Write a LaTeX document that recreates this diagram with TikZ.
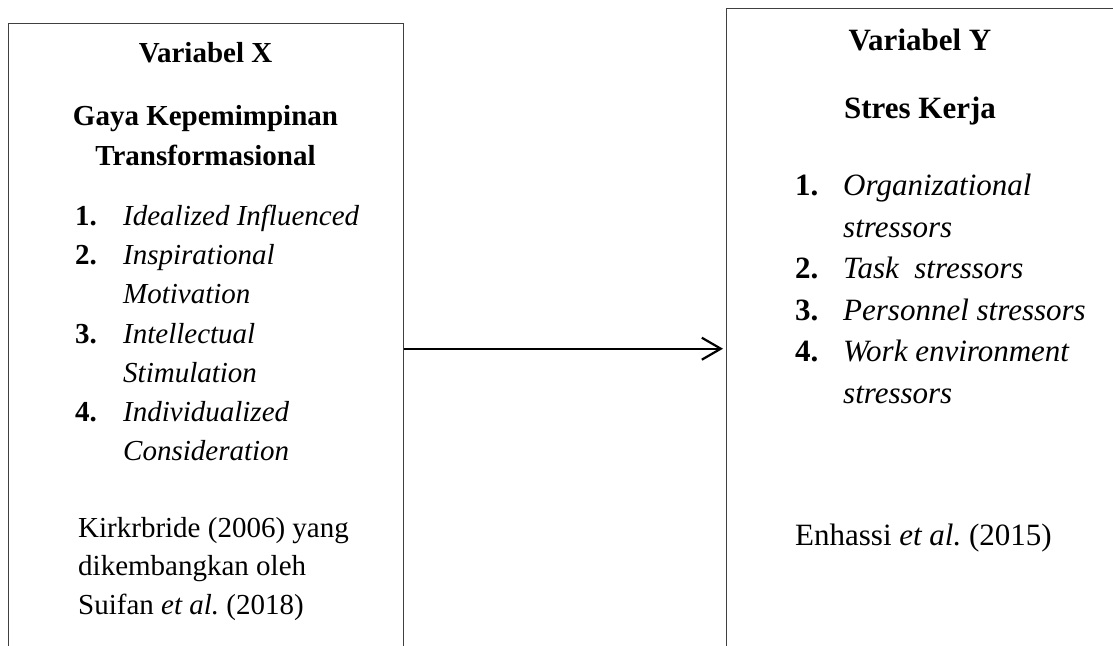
\documentclass[tikz,border=0pt]{standalone}
\usepackage{fontspec}
\setmainfont{Liberation Serif}
\usetikzlibrary{positioning, arrows.meta}
\newcommand\kiri{\fontsize{29}{39}\selectfont}
\newcommand\kanan{\fontsize{31}{42}\selectfont}
\tikzset{
  kotak/.style={draw=black!75, line width=1.4pt, anchor=north west, inner sep=0pt, minimum width=395pt},
  judulX/.style={anchor=base, inner sep=0pt, font=\kiri\bfseries},
  nomorX/.style={anchor=base west, inner sep=0pt, font=\kiri\bfseries},
  butirX/.style={anchor=base west, inner sep=0pt, font=\kiri\itshape},
  teksX/.style={anchor=base west, inner sep=0pt, font=\kiri},
  judulY/.style={anchor=base, inner sep=0pt, font=\kanan\bfseries},
  nomorY/.style={anchor=base west, inner sep=0pt, font=\kanan\bfseries},
  butirY/.style={anchor=base west, inner sep=0pt, font=\kanan\itshape},
  teksY/.style={anchor=base west, inner sep=0pt, font=\kanan},
  panah/.style={-{Straight Barb[length=19pt, width=22pt]}, line width=2.2pt, shorten >=3pt}
}

\begin{document}
\begin{tikzpicture}[x=1pt, y=-1pt]
    \useasboundingbox (0,0) rectangle (1113,645);
    \clip (0,0) rectangle (1113,645);
    % Kotak (bagian bawah terpotong)
    \node[kotak, minimum height=650pt] (boxX) at (8,23) {};
    \node[kotak, minimum height=680pt] (boxY) at (726,8) {};
    % Variabel X
    \node[judulX] (varX) at (205.5,62) {Variabel X};
    \node[judulX] (gaya) at (205.5,125) {Gaya Kepemimpinan};
    \node[judulX] (transf) at (205.5,165) {Transformasional};
    \node[nomorX] (nX1) at (75,225) {1.};
    \node[butirX] (iX1) at (123,225) {Idealized Influenced};
    \node[nomorX] (nX2) at (75,264) {2.};
    \node[butirX] (iX2) at (123,264) {Inspirational};
    \node[butirX] (iX2b) at (123,303) {Motivation};
    \node[nomorX] (nX3) at (75,343) {3.};
    \node[butirX] (iX3) at (123,343) {Intellectual};
    \node[butirX] (iX3b) at (123,382) {Stimulation};
    \node[nomorX] (nX4) at (75,421) {4.};
    \node[butirX] (iX4) at (123,421) {Individualized};
    \node[butirX] (iX4b) at (123,460) {Consideration};
    \node[teksX] (refX1) at (78,537) {Kirkrbride (2006) yang};
    \node[teksX] (refX2) at (78,575) {dikembangkan oleh};
    \node[teksX] (refX3) at (78,614) {Suifan \textit{et al.}\ (2018)};
    % Variabel Y
    \node[judulY] (varY) at (920,50) {Variabel Y};
    \node[judulY] (stres) at (920,118) {Stres Kerja};
    \node[nomorY] (nY1) at (795,195) {1.};
    \node[butirY] (iY1) at (843,195) {Organizational};
    \node[butirY] (iY1b) at (843,237) {stressors};
    \node[nomorY] (nY2) at (795,278) {2.};
    \node[butirY] (iY2) at (843,278) {Task\ \ stressors};
    \node[nomorY] (nY3) at (795,320) {3.};
    \node[butirY] (iY3) at (843,320) {Personnel stressors};
    \node[nomorY] (nY4) at (795,361) {4.};
    \node[butirY] (iY4) at (843,361) {Work environment};
    \node[butirY] (iY4b) at (843,403) {stressors};
    \node[teksY] (refY) at (795,545) {Enhassi \textit{et al.}\ (2015)};
    % Pengaruh X terhadap Y
    \draw[panah] (boxX.east) -- (boxY.west);
\end{tikzpicture}
\end{document}
